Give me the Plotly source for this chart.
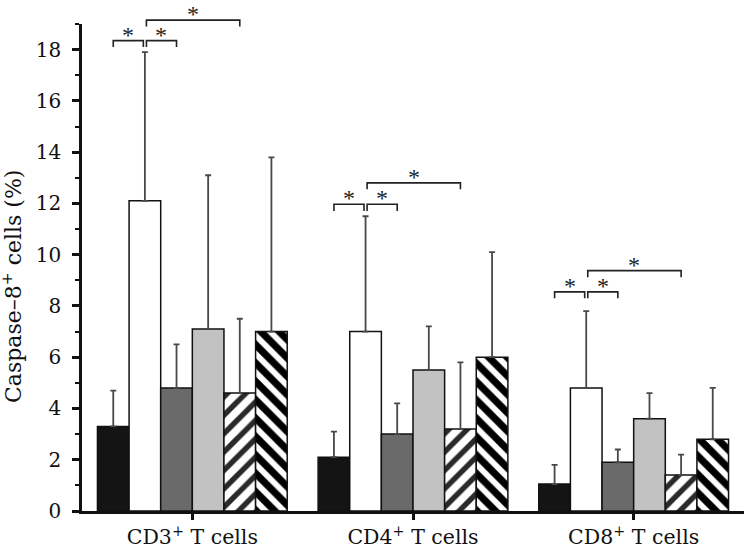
import plotly.graph_objects as go

# ---------------- data ----------------
categories = ["CD3<sup>+</sup> T cells", "CD4<sup>+</sup> T cells", "CD8<sup>+</sup> T cells"]
series_names = ["Group 1", "Group 2", "Group 3", "Group 4", "Group 5", "Group 6"]

means_g1 = [3.3, 2.1, 1.05]
means_g2 = [12.1, 7.0, 4.8]
means_g3 = [4.8, 3.0, 1.9]
means_g4 = [7.1, 5.5, 3.6]
means_g5 = [4.6, 3.2, 1.4]
means_g6 = [7.0, 6.0, 2.8]

sd_g1 = [1.4, 1.0, 0.75]
sd_g2 = [5.8, 4.5, 3.0]
sd_g3 = [1.7, 1.2, 0.5]
sd_g4 = [6.0, 1.7, 1.0]
sd_g5 = [2.9, 2.6, 0.8]
sd_g6 = [6.8, 4.1, 2.0]

y_ticks = [0, 2, 4, 6, 8, 10, 12, 14, 16, 18]
y_max = 19

# significance brackets: (category index, bar from, bar to, line level, foot level)
brackets = [
    (0, 0, 1, 18.35, 18.1), (0, 1, 2, 18.35, 18.1), (0, 1, 4, 19.15, 18.9),
    (1, 0, 1, 11.97, 11.7), (1, 1, 2, 11.97, 11.7), (1, 1, 4, 12.8, 12.55),
    (2, 0, 1, 8.55, 8.3), (2, 1, 2, 8.55, 8.3), (2, 1, 4, 9.38, 9.12),
]
sig_label = "*"

# ---------------- styles ----------------
fills = ["#141414", "#ffffff", "#6a6a6a", "#c2c2c2", "#ffffff", "#ffffff"]
patterns = ["", "", "", "", "/", "\\"]
pattern_fg = ["#000", "#000", "#000", "#000", "#2a2a2a", "#000000"]
pattern_sol = [0.3, 0.3, 0.3, 0.3, 0.42, 0.55]
FONT = "DejaVu Serif"
AST_FONT = "Liberation Serif"

means = [means_g1, means_g2, means_g3, means_g4, means_g5, means_g6]
sds = [sd_g1, sd_g2, sd_g3, sd_g4, sd_g5, sd_g6]

BARGAP = 0.14
n_series = len(series_names)
bar_w = (1 - BARGAP) / n_series

fig = go.Figure()
xs = list(range(len(categories)))
for k in range(n_series):
    fig.add_trace(go.Bar(
        x=xs, y=means[k], name=series_names[k], showlegend=False,
        marker=dict(color=fills[k], line=dict(color="#111", width=1.5),
                    pattern=dict(shape=patterns[k], fgcolor=pattern_fg[k], bgcolor="white",
                                 size=13, solidity=pattern_sol[k], fillmode="replace")),
        error_y=dict(type="data", symmetric=False, array=sds[k], arrayminus=[0] * len(xs),
                     color="#484848", thickness=1.8, width=3),
    ))

def bar_center(cat, k):
    return cat + (k - (n_series - 1) / 2) * bar_w

shapes = []
annotations = []
nudge = 0.007
for cat, a, b, lvl, foot in brackets:
    xa = bar_center(cat, a)
    xb = bar_center(cat, b)
    if a == 1:
        xa += nudge
    if b == 1:
        xb -= nudge
    ya, yf = lvl / y_max, foot / y_max
    shapes.append(dict(type="path", xref="x", yref="paper",
                       path=f"M{xa},{yf} L{xa},{ya} L{xb},{ya} L{xb},{yf}",
                       line=dict(color="#222", width=1.6)))
    annotations.append(dict(x=(xa + xb) / 2, y=ya, xref="x", yref="paper", text=sig_label,
                            showarrow=False, yanchor="bottom", yshift=-9,
                            font=dict(family=AST_FONT, size=24, color="#222")))

annotations.append(dict(x=0, y=0.46, xref="paper", yref="paper", xshift=-70,
                        text="Caspase–8<sup>+</sup> cells (%)", textangle=-90, showarrow=False,
                        xanchor="center", yanchor="middle",
                        font=dict(family=FONT, size=22, color="#111")))

fig.update_layout(
    width=749, height=547,
    margin=dict(l=82, r=5, t=24, b=36),
    paper_bgcolor="white", plot_bgcolor="white",
    barmode="group", bargap=BARGAP, bargroupgap=0,
    shapes=shapes, annotations=annotations,
    font=dict(family=FONT, color="#111"),
)
fig.update_xaxes(
    range=[-0.5, 2.5], tickvals=xs, ticktext=categories, automargin=False,
    showline=True, linecolor="#111", linewidth=2.5,
    ticks="outside", ticklen=6, tickwidth=2.5, tickcolor="#111",
    showgrid=False, zeroline=False, tickfont=dict(family=FONT, size=20.5, color="#111"),
)
fig.update_yaxes(
    range=[0, y_max], tickvals=y_ticks, automargin=False,
    showline=True, linecolor="#111", linewidth=2.5,
    ticks="outside", ticklen=7, tickwidth=2.5, tickcolor="#111", ticklabelstandoff=7,
    minor=dict(dtick=1, tick0=0, ticks="outside", ticklen=4.5, tickwidth=2, tickcolor="#111"),
    showgrid=False, zeroline=False, tickfont=dict(family=FONT, size=20, color="#111"),
)

fig.write_html(
    "out.html",
    config={"displayModeBar": False},
    post_script="document.body.style.margin='0';document.body.style.overflow='hidden';",
)
